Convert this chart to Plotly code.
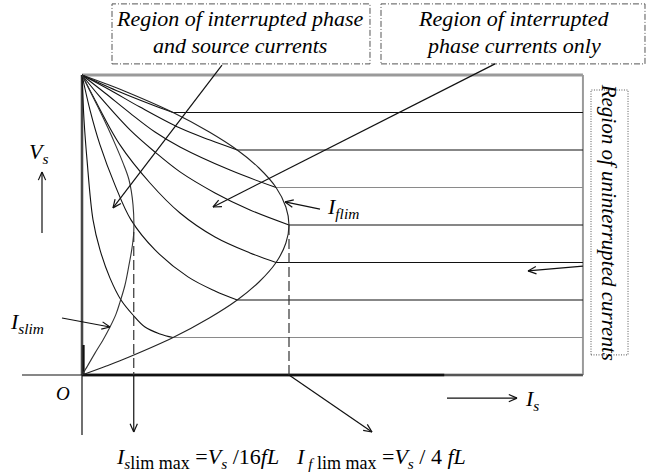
import math
import plotly.graph_objects as go

# ---- canvas / coordinate frame -------------------------------------------
W, H = 649, 473
# Is measured in units of Vs/(16 fL); Vs normalised to its maximum
X_RANGE = [-1.5845, 10.9565]
Y_RANGE = [-0.32667, 1.25]
PX_X = W / (X_RANGE[1] - X_RANGE[0])
PX_Y = H / (Y_RANGE[1] - Y_RANGE[0])

IS_RIGHT = 9.68          # right edge of the operating region
IS_AXIS_LEFT = -1.16     # left end of the Is axis line
VS_AXIS_BOTTOM = -0.2    # lower end of the Vs axis line
IS_THICK_END = 7.0

# ---- I_f,lim boundary (phase-current limit) -------------------------------
flim_is = [0, 0.47, 0.91, 1.76, 2.46, 3.0, 3.42, 3.75, 3.94, 4.0, 3.94, 3.75, 3.42, 3.0, 2.46, 1.76, 0.91, 0.47, 0]
flim_vs = [0, 0.03, 0.06, 0.125, 0.19, 0.25, 0.31, 0.375, 0.44, 0.5, 0.56, 0.625, 0.69, 0.75, 0.81, 0.875, 0.94, 0.97, 1.0]

# ---- I_s,lim boundary (source-current limit) ------------------------------
slim_is = [0, 0.116, 0.251, 0.406, 0.541, 0.657, 0.734, 0.831, 0.908, 0.966, 1.0, 0.986, 0.909, 0.792, 0.657, 0.502, 0.309, 0]
slim_vs = [0, 0.033, 0.073, 0.117, 0.16, 0.203, 0.243, 0.3, 0.367, 0.423, 0.477, 0.567, 0.65, 0.707, 0.763, 0.823, 0.893, 1.0]

IF_LIM_MAX = 4.0     # Vs/4fL
IS_LIM_MAX = 1.0     # Vs/16fL
IF_LIM_MAX_VS = 0.5
IS_LIM_MAX_VS = 0.477

# ---- constant-voltage levels ---------------------------------------------
level_vs = [0.875, 0.75, 0.625, 0.5, 0.375, 0.25, 0.125]
level_start_is = [1.76, 3.0, 3.75, 4.0, 3.75, 3.0, 1.76]
level_color = ["#111", "#111", "#8a8a8a", "#111", "#111", "#111", "#8a8a8a"]

# ---- trajectories from (0, Vs) to each level -----------------------------
curve_875_is = [0, 0.734, 1.314, 1.758]
curve_875_vs = [1.0, 0.943, 0.903, 0.875]
curve_750_is = [0, 0.541, 1.121, 1.894, 2.473, 3.0]
curve_750_vs = [1.0, 0.95, 0.893, 0.823, 0.783, 0.75]
curve_625_is = [0, 0.444, 0.928, 1.411, 1.894, 2.86, 3.75]
curve_625_vs = [1.0, 0.94, 0.873, 0.81, 0.76, 0.683, 0.625]
curve_500_is = [0, 0.348, 0.928, 1.411, 1.894, 2.57, 3.246, 4.0]
curve_500_vs = [1.0, 0.927, 0.817, 0.743, 0.677, 0.607, 0.55, 0.5]
curve_375_is = [0, 0.251, 0.734, 1.314, 1.894, 2.57, 3.246, 3.75]
curve_375_vs = [1.0, 0.917, 0.767, 0.64, 0.54, 0.46, 0.407, 0.375]
curve_250_is = [0, 0.155, 0.348, 0.638, 0.947, 1.411, 2.048, 2.57, 3.0]
curve_250_vs = [1.0, 0.883, 0.767, 0.633, 0.517, 0.417, 0.327, 0.28, 0.25]
curve_125_is = [0, 0.039, 0.097, 0.213, 0.348, 0.541, 0.754, 0.986, 1.217, 1.507, 1.758]
curve_125_vs = [1.0, 0.85, 0.717, 0.517, 0.417, 0.323, 0.25, 0.2, 0.16, 0.137, 0.125]

FONT = "'Liberation Serif', 'Times New Roman', serif"
INK = "#111"

fig = go.Figure()


def add_line(xs, ys, color=INK, width=1.1, dash=None, spline=False):
    fig.add_trace(go.Scatter(
        x=xs, y=ys, mode="lines", hoverinfo="skip", showlegend=False,
        line=dict(color=color, width=width, dash=dash,
                  shape="spline" if spline else "linear", smoothing=1.0)))


def add_arrow(x0, y0, x1, y1, head=9, spread=0.42, color=INK, width=1.2):
    """Straight arrow with an open V head at (x1, y1)."""
    add_line([x0, x1], [y0, y1], color=color, width=width)
    dx = (x1 - x0) * PX_X
    dy = (y1 - y0) * PX_Y
    n = math.hypot(dx, dy)
    bx, by = -dx / n, -dy / n
    for s in (1, -1):
        c, sn = math.cos(spread), math.sin(spread) * s
        rx, ry = bx * c - by * sn, bx * sn + by * c
        add_line([x1, x1 + rx * head / PX_X], [y1, y1 + ry * head / PX_Y],
                 color=color, width=width)


def add_box(x0, x1, y0, y1, dash, color="#555"):
    add_line([x0, x1, x1, x0, x0], [y0, y0, y1, y1, y0], color=color, width=1, dash=dash)


def label(x, y, text, size=20, xanchor="center", angle=0):
    fig.add_annotation(x=x, y=y, xref="x", yref="y", text=text, showarrow=False,
                       xanchor=xanchor, yanchor="middle", textangle=angle,
                       font=dict(family=FONT, size=size, color="black"))


# ---- frame of the operating region ---------------------------------------
add_line([0, IS_RIGHT], [1.0, 1.0], color="#9a9a9a", width=3)
add_line([IS_RIGHT, IS_RIGHT], [0, 1.0], color="#9a9a9a", width=2)
add_line([0, 0], [0, 1.0], color="#9a9a9a", width=3)
add_line([0, IS_RIGHT], [0, 0], color="#9a9a9a", width=3)

# axes
add_line([IS_AXIS_LEFT, IS_RIGHT], [0, 0], color=INK, width=1.2)
add_line([0, IS_THICK_END], [0, 0], color=INK, width=2.4)
add_line([0, 0], [VS_AXIS_BOTTOM, 1.0], color=INK, width=1.2)
add_line([0.03, 0.03], [0, 0.1], color=INK, width=2.2)

# horizontal levels beyond the I_f,lim boundary
for v, s, c in zip(level_vs, level_start_is, level_color):
    add_line([s, IS_RIGHT], [v, v], color=c, width=1.1)

# trajectories
for xs, ys in [(curve_875_is, curve_875_vs), (curve_750_is, curve_750_vs),
               (curve_625_is, curve_625_vs), (curve_500_is, curve_500_vs),
               (curve_375_is, curve_375_vs), (curve_250_is, curve_250_vs),
               (curve_125_is, curve_125_vs)]:
    add_line(xs, ys, width=1.1, spline=True)

# limit boundaries
add_line(flim_is, flim_vs, color="#222", width=1.1, spline=True)
add_line(slim_is, slim_vs, color="#333", width=1.1, spline=True)

# dashed projections of the maxima
add_line([IF_LIM_MAX, IF_LIM_MAX], [IF_LIM_MAX_VS, 0], color="#333", width=1.2, dash="10px,4px")
add_line([IS_LIM_MAX, IS_LIM_MAX], [IS_LIM_MAX_VS, 0], color="#333", width=1.2, dash="10px,4px")

# ---- callout boxes --------------------------------------------------------
add_box(0.58, 5.565, 1.037, 1.237, dash="6px,2px,1px,2px")
add_box(5.778, 10.879, 1.037, 1.237, dash="6px,2px,1px,2px")
add_box(9.836, 10.551, 0.067, 0.95, dash="1px,1.5px")

label(3.05, 1.19, "<i>Region of interrupted phase</i>", size=22)
label(3.05, 1.10, "<i>and source currents</i>", size=22)
label(8.33, 1.19, "<i>Region of interrupted</i>", size=22)
label(8.33, 1.10, "<i>phase currents only</i>", size=22)
label(10.19, 0.51, "<i>Region of uninterrupted currents</i>", size=21, angle=90)

# ---- arrows ---------------------------------------------------------------
add_arrow(2.705, 1.033, 0.599, 0.557)
add_arrow(7.981, 1.037, 2.531, 0.56)
add_arrow(4.599, 0.553, 3.923, 0.577)
add_arrow(-0.386, 0.19, 0.541, 0.16)
add_arrow(-0.773, 0.473, -0.773, 0.677)
add_arrow(7.053, -0.077, 8.406, -0.077)
add_arrow(IS_RIGHT, 0.363, 8.618, 0.347)
add_arrow(IS_LIM_MAX, 0.0, IS_LIM_MAX, -0.19)
add_arrow(IF_LIM_MAX, 0.0, 5.604, -0.19)

# ---- symbols --------------------------------------------------------------
label(-0.85, 0.74, "<i>V<sub>s</sub></i>", size=22)
label(-0.367, -0.06, "<i>O</i>", size=19)
label(8.70, -0.083, "<i>I<sub>s</sub></i>", size=22)
label(4.696, 0.557, "<i>I<sub>flim</sub></i>", size=22, xanchor="left")
label(-1.43, 0.173, "<i>I<sub>slim</sub></i>", size=22, xanchor="left")
label(0.62, -0.277,
      "<i>I</i><sub><i>s</i><span style='font-size:18px'>lim max</span></sub> =<i>V</i><sub><i>s</i></sub> /16<i>fL</i>",
      size=22, xanchor="left")
label(4.10, -0.277,
      "<i>I</i><sub><i> f</i><span style='font-size:18px'> lim max</span></sub> =<i>V</i><sub><i>s</i></sub> / 4 <i>fL</i>",
      size=22, xanchor="left")

fig.update_layout(
    width=W, height=H, margin=dict(l=0, r=0, t=0, b=0),
    paper_bgcolor="white", plot_bgcolor="white", showlegend=False,
    xaxis=dict(range=X_RANGE, visible=False, fixedrange=True),
    yaxis=dict(range=Y_RANGE, visible=False, fixedrange=True),
)

fig.write_html("out.html")
